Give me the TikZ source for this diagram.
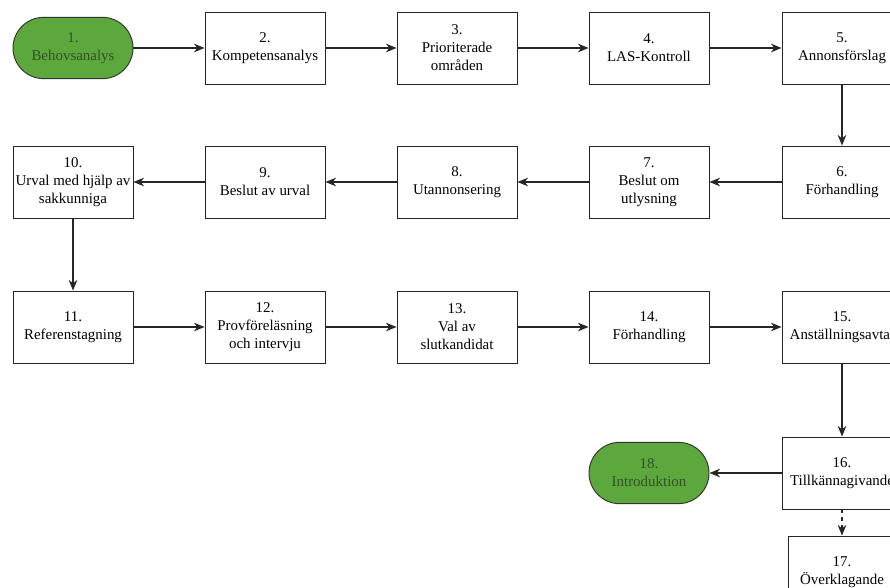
\documentclass[tikz,border=0pt]{standalone}
\usepackage{fontspec}
\setmainfont{Liberation Serif}
\usetikzlibrary{arrows.meta}
\definecolor{termgreen}{HTML}{5CA83C}
\definecolor{termtext}{HTML}{34502A}
\begin{document}
\begin{tikzpicture}[x=0.75pt,y=-0.75pt,
  box/.style={draw=black!85, line width=0.7pt, fill=white, minimum width=90pt, minimum height=54pt, align=center, inner sep=1pt,
    font=\fontsize{11.2pt}{13.5pt}\selectfont},
  term/.style={draw=black!80, line width=0.7pt, fill=termgreen, text=termtext, minimum width=90pt, minimum height=46pt, rounded corners=23pt, align=center,
    font=\fontsize{11.2pt}{13.5pt}\selectfont},
  conn/.style={line width=0.9pt, draw=black!85, -{Stealth[length=8pt,width=6.5pt]}},
  dconn/.style={conn, dash pattern=on 3pt off 3pt}]
\useasboundingbox (0,0) rectangle (890,588);
\clip (0,0) rectangle (890,588);
\node[term] (n1) at (73,48) {1.\\Behovsanalys};
\node[box] (n2) at (265,48) {2.\\Kompetensanalys};
\node[box] (n3) at (457,48) {3.\\Prioriterade\\områden};
\node[box] (n4) at (649,48) {4.\\LAS-Kontroll};
\node[box] (n5) at (842,48) {5.\\Annonsförslag};
\node[box] (n6) at (842,182) {6.\\Förhandling};
\node[box] (n7) at (649,182) {7.\\Beslut om\\utlysning};
\node[box] (n8) at (457,182) {8.\\Utannonsering};
\node[box] (n9) at (265,182) {9.\\Beslut av urval};
\node[box] (n10) at (73,182) {10.\\Urval med hjälp av\\sakkunniga};
\node[box] (n11) at (73,327) {11.\\Referenstagning};
\node[box] (n12) at (265,327) {12.\\Provföreläsning\\och intervju};
\node[box] (n13) at (457,327) {13.\\Val av\\slutkandidat};
\node[box] (n14) at (649,327) {14.\\Förhandling};
\node[box] (n15) at (842,327) {15.\\Anställningsavtal};
\node[box] (n16) at (842,473) {16.\\Tillkännagivande};
\node[term] (n18) at (649,473) {18.\\Introduktion};
\node[box, minimum width=81pt] (n17) at (842,572) {17.\\Överklagande};
\draw[conn] (n1) -- (n2);
\draw[conn] (n2) -- (n3);
\draw[conn] (n3) -- (n4);
\draw[conn] (n4) -- (n5);
\draw[conn] (n5) -- (n6);
\draw[conn] (n6) -- (n7);
\draw[conn] (n7) -- (n8);
\draw[conn] (n8) -- (n9);
\draw[conn] (n9) -- (n10);
\draw[conn] (n10) -- (n11);
\draw[conn] (n11) -- (n12);
\draw[conn] (n12) -- (n13);
\draw[conn] (n13) -- (n14);
\draw[conn] (n14) -- (n15);
\draw[conn] (n15) -- (n16);
\draw[conn] (n16) -- (n18);
\draw[dconn] (n16) -- (n17);
\end{tikzpicture}
\end{document}
